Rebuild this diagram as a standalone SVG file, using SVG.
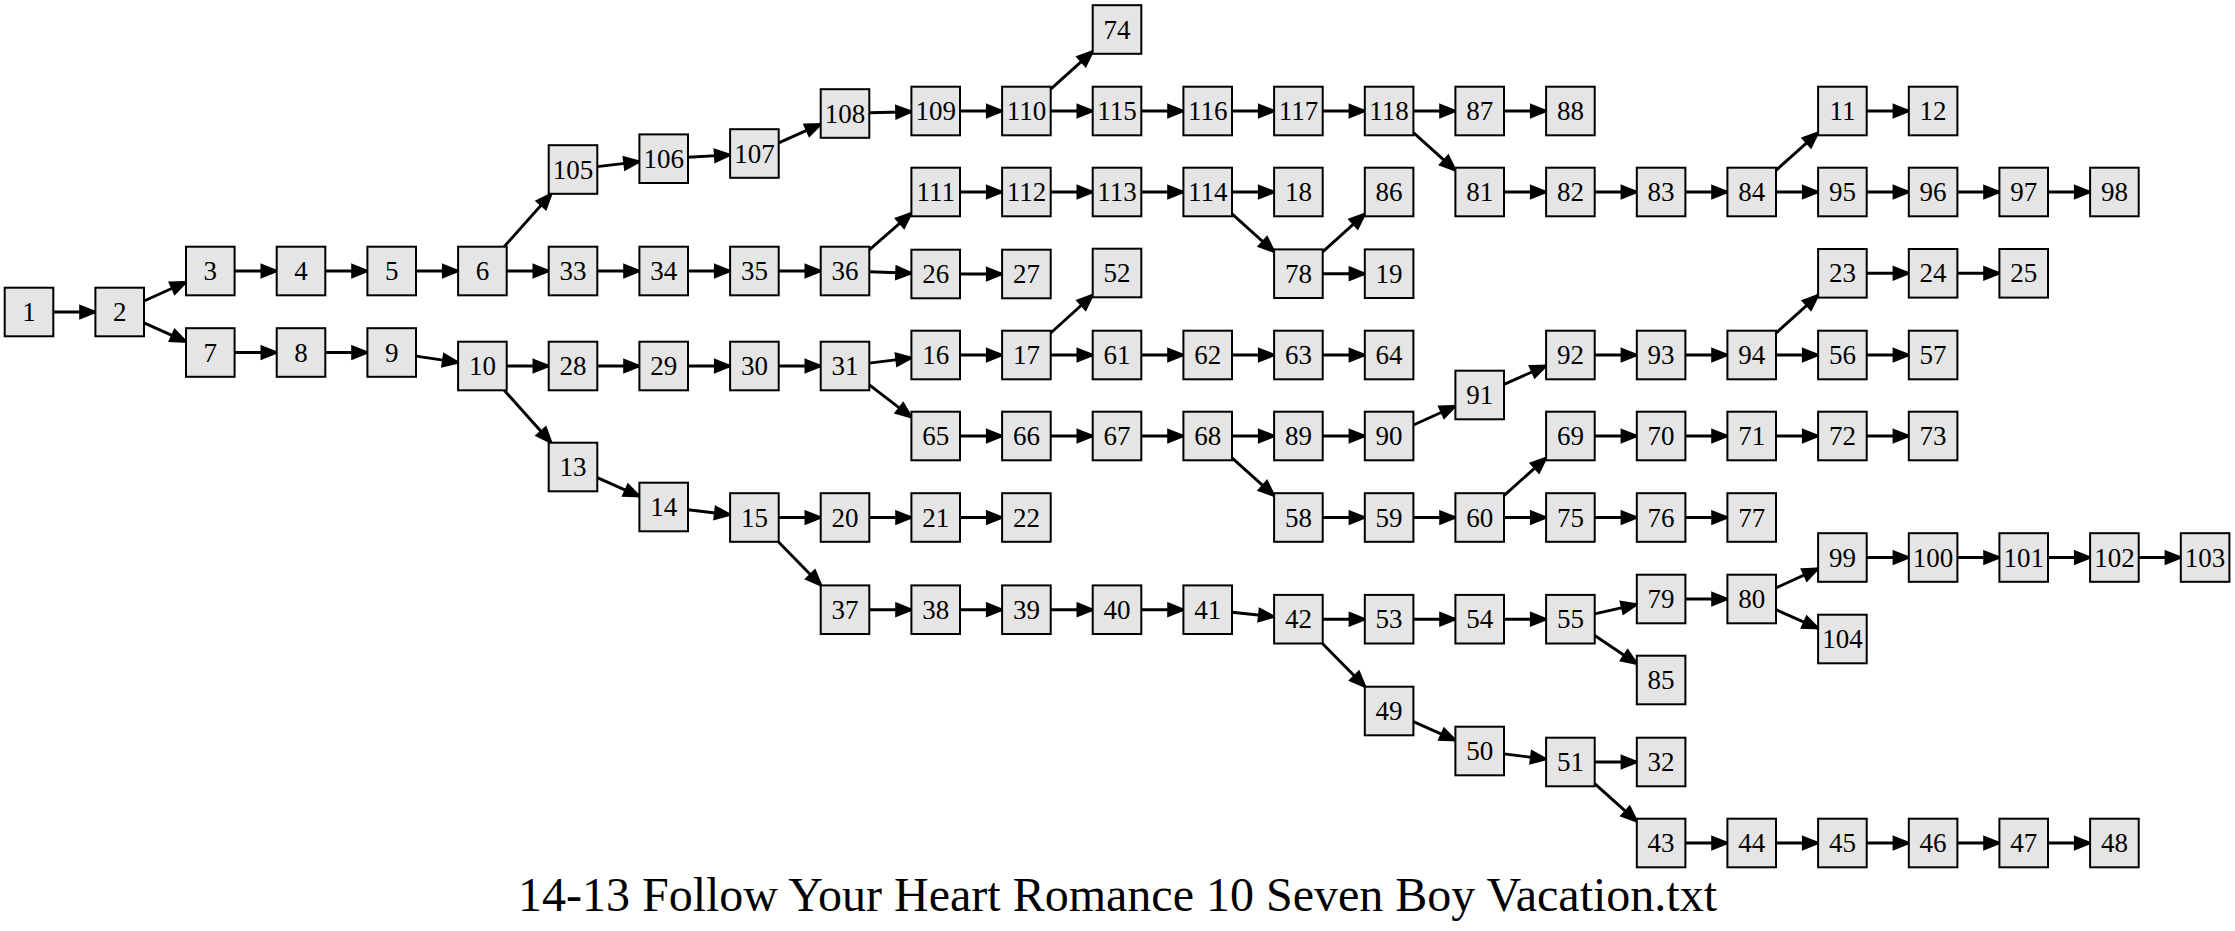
<svg xmlns="http://www.w3.org/2000/svg" width="2235" height="931" viewBox="0 0 2235 931">
<style>
.n rect{fill:#e5e5e5;stroke:#000;stroke-width:2}
.n text{font-family:"Liberation Serif","Times New Roman",serif;font-size:27px;text-anchor:middle;fill:#000}
#edges path{fill:none;stroke:#000;stroke-width:2.9;marker-end:url(#ah)}
.title{font-family:"Liberation Serif","Times New Roman",serif;font-size:48px;text-anchor:middle;fill:#000}
</style>
<defs>
<marker id="ah" markerUnits="userSpaceOnUse" markerWidth="20" markerHeight="20" refX="15" refY="6" orient="auto" overflow="visible">
<path d="M0,0 L15,6 L0,12 Z" fill="#000" stroke="#000" stroke-width="2.4"/>
</marker>
</defs>
<rect x="0" y="0" width="2235" height="931" fill="#fff"/>
<g id="edges">
<path d="M53.3 312 L95.4 312"/>
<path d="M144 301 L186 282"/>
<path d="M144 322.9 L186 341.6"/>
<path d="M234.6 271 L276.7 271"/>
<path d="M325.3 271 L367.4 271"/>
<path d="M416 271 L458.1 271"/>
<path d="M504.1 246.7 L551.3 193.8"/>
<path d="M506.7 271 L548.7 271"/>
<path d="M597.3 166.6 L639.4 161.6"/>
<path d="M688 157.3 L730.1 154.9"/>
<path d="M778.7 142.8 L820.7 124.2"/>
<path d="M869.3 112.8 L911.4 111.7"/>
<path d="M960 111 L1002.1 111"/>
<path d="M1050.7 89.2 L1092.7 51.3"/>
<path d="M1050.7 111 L1092.7 111"/>
<path d="M1141.3 111 L1183.4 111"/>
<path d="M1232 111 L1274.1 111"/>
<path d="M1322.7 111 L1364.8 111"/>
<path d="M1413.4 111 L1455.4 111"/>
<path d="M1504 111 L1546.1 111"/>
<path d="M1413.4 132.7 L1455.4 170.3"/>
<path d="M1504 192 L1546.1 192"/>
<path d="M1594.7 192 L1636.8 192"/>
<path d="M1685.4 192 L1727.4 192"/>
<path d="M1776 170.3 L1818.1 132.7"/>
<path d="M1866.7 111 L1908.8 111"/>
<path d="M1776 192 L1818.1 192"/>
<path d="M1866.7 192 L1908.8 192"/>
<path d="M1957.4 192 L1999.4 192"/>
<path d="M2048 192 L2090.1 192"/>
<path d="M597.3 271 L639.4 271"/>
<path d="M688 271 L730.1 271"/>
<path d="M778.7 271 L820.7 271"/>
<path d="M869.3 249.8 L911.4 213.2"/>
<path d="M869.3 271.8 L911.4 273.2"/>
<path d="M960 274 L1002.1 274"/>
<path d="M960 192 L1002.1 192"/>
<path d="M1050.7 192 L1092.7 192"/>
<path d="M1141.3 192 L1183.4 192"/>
<path d="M1232 192 L1274.1 192"/>
<path d="M1232 213.9 L1274.1 251.8"/>
<path d="M1322.7 251.8 L1364.8 213.9"/>
<path d="M1322.7 273.7 L1364.8 273.7"/>
<path d="M234.6 352.5 L276.7 352.5"/>
<path d="M325.3 352.5 L367.4 352.5"/>
<path d="M416 356.1 L458.1 362.4"/>
<path d="M506.7 366 L548.7 366"/>
<path d="M504.2 390.3 L551.2 442.7"/>
<path d="M597.3 366 L639.4 366"/>
<path d="M688 366 L730.1 366"/>
<path d="M778.7 366 L820.7 366"/>
<path d="M869.3 363.1 L911.4 357.9"/>
<path d="M869.3 384.8 L911.4 417.2"/>
<path d="M960 355 L1002.1 355"/>
<path d="M1050.7 333 L1092.7 295"/>
<path d="M1050.7 355 L1092.7 355"/>
<path d="M1141.3 355 L1183.4 355"/>
<path d="M1232 355 L1274.1 355"/>
<path d="M1322.7 355 L1364.8 355"/>
<path d="M960 436 L1002.1 436"/>
<path d="M1050.7 436 L1092.7 436"/>
<path d="M1141.3 436 L1183.4 436"/>
<path d="M1232 436 L1274.1 436"/>
<path d="M1232 457.8 L1274.1 495.7"/>
<path d="M1322.7 436 L1364.8 436"/>
<path d="M1413.4 425 L1455.4 406"/>
<path d="M1504 384.3 L1546.1 365.7"/>
<path d="M1594.7 355 L1636.8 355"/>
<path d="M1685.4 355 L1727.4 355"/>
<path d="M1776 333.1 L1818.1 295.2"/>
<path d="M1776 355 L1818.1 355"/>
<path d="M1866.7 273.3 L1908.8 273.3"/>
<path d="M1957.4 273.3 L1999.4 273.3"/>
<path d="M1866.7 355 L1908.8 355"/>
<path d="M1322.7 517.5 L1364.8 517.5"/>
<path d="M1413.4 517.5 L1455.4 517.5"/>
<path d="M1504 495.7 L1546.1 457.8"/>
<path d="M1504 517.5 L1546.1 517.5"/>
<path d="M1594.7 436 L1636.8 436"/>
<path d="M1685.4 436 L1727.4 436"/>
<path d="M1776 436 L1818.1 436"/>
<path d="M1866.7 436 L1908.8 436"/>
<path d="M1594.7 517.5 L1636.8 517.5"/>
<path d="M1685.4 517.5 L1727.4 517.5"/>
<path d="M597.3 477.7 L639.4 496.3"/>
<path d="M688 509.8 L730.1 514.7"/>
<path d="M778.7 517.5 L820.7 517.5"/>
<path d="M778.3 541.8 L821.1 585.4"/>
<path d="M869.3 517.5 L911.4 517.5"/>
<path d="M960 517.5 L1002.1 517.5"/>
<path d="M869.3 609.7 L911.4 609.7"/>
<path d="M960 609.7 L1002.1 609.7"/>
<path d="M1050.7 609.7 L1092.7 609.7"/>
<path d="M1141.3 609.7 L1183.4 609.7"/>
<path d="M1232 612.2 L1274.1 616.7"/>
<path d="M1322.7 619.2 L1364.8 619.2"/>
<path d="M1322.4 643.5 L1365.1 686.7"/>
<path d="M1413.4 619.2 L1455.4 619.2"/>
<path d="M1504 619.2 L1546.1 619.2"/>
<path d="M1594.7 613.8 L1636.8 604.4"/>
<path d="M1594.7 635.5 L1636.8 663.7"/>
<path d="M1685.4 599 L1727.4 599"/>
<path d="M1776 587.9 L1818.1 568.6"/>
<path d="M1776 609.7 L1818.1 628.3"/>
<path d="M1866.7 557.5 L1908.8 557.5"/>
<path d="M1957.4 557.5 L1999.4 557.5"/>
<path d="M2048 557.5 L2090.1 557.5"/>
<path d="M2138.7 557.5 L2180.8 557.5"/>
<path d="M1413.4 721.7 L1455.4 740.3"/>
<path d="M1504 753.9 L1546.1 759.1"/>
<path d="M1594.7 762 L1636.8 762"/>
<path d="M1594.7 783.7 L1636.8 821.3"/>
<path d="M1685.4 843 L1727.4 843"/>
<path d="M1776 843 L1818.1 843"/>
<path d="M1866.7 843 L1908.8 843"/>
<path d="M1957.4 843 L1999.4 843"/>
<path d="M2048 843 L2090.1 843"/>
</g>
<g id="n1" class="n" transform="translate(29,312)"><rect x="-24.3" y="-24.3" width="48.6" height="48.6"/><text y="9">1</text></g>
<g id="n2" class="n" transform="translate(119.7,312)"><rect x="-24.3" y="-24.3" width="48.6" height="48.6"/><text y="9">2</text></g>
<g id="n3" class="n" transform="translate(210.3,271)"><rect x="-24.3" y="-24.3" width="48.6" height="48.6"/><text y="9">3</text></g>
<g id="n4" class="n" transform="translate(301,271)"><rect x="-24.3" y="-24.3" width="48.6" height="48.6"/><text y="9">4</text></g>
<g id="n5" class="n" transform="translate(391.7,271)"><rect x="-24.3" y="-24.3" width="48.6" height="48.6"/><text y="9">5</text></g>
<g id="n6" class="n" transform="translate(482.4,271)"><rect x="-24.3" y="-24.3" width="48.6" height="48.6"/><text y="9">6</text></g>
<g id="n105" class="n" transform="translate(573,169.5)"><rect x="-24.3" y="-24.3" width="48.6" height="48.6"/><text y="9">105</text></g>
<g id="n106" class="n" transform="translate(663.7,158.7)"><rect x="-24.3" y="-24.3" width="48.6" height="48.6"/><text y="9">106</text></g>
<g id="n107" class="n" transform="translate(754.4,153.5)"><rect x="-24.3" y="-24.3" width="48.6" height="48.6"/><text y="9">107</text></g>
<g id="n108" class="n" transform="translate(845,113.5)"><rect x="-24.3" y="-24.3" width="48.6" height="48.6"/><text y="9">108</text></g>
<g id="n109" class="n" transform="translate(935.7,111)"><rect x="-24.3" y="-24.3" width="48.6" height="48.6"/><text y="9">109</text></g>
<g id="n110" class="n" transform="translate(1026.4,111)"><rect x="-24.3" y="-24.3" width="48.6" height="48.6"/><text y="9">110</text></g>
<g id="n74" class="n" transform="translate(1117,29.5)"><rect x="-24.3" y="-24.3" width="48.6" height="48.6"/><text y="9">74</text></g>
<g id="n115" class="n" transform="translate(1117,111)"><rect x="-24.3" y="-24.3" width="48.6" height="48.6"/><text y="9">115</text></g>
<g id="n116" class="n" transform="translate(1207.7,111)"><rect x="-24.3" y="-24.3" width="48.6" height="48.6"/><text y="9">116</text></g>
<g id="n117" class="n" transform="translate(1298.4,111)"><rect x="-24.3" y="-24.3" width="48.6" height="48.6"/><text y="9">117</text></g>
<g id="n118" class="n" transform="translate(1389.1,111)"><rect x="-24.3" y="-24.3" width="48.6" height="48.6"/><text y="9">118</text></g>
<g id="n87" class="n" transform="translate(1479.7,111)"><rect x="-24.3" y="-24.3" width="48.6" height="48.6"/><text y="9">87</text></g>
<g id="n88" class="n" transform="translate(1570.4,111)"><rect x="-24.3" y="-24.3" width="48.6" height="48.6"/><text y="9">88</text></g>
<g id="n81" class="n" transform="translate(1479.7,192)"><rect x="-24.3" y="-24.3" width="48.6" height="48.6"/><text y="9">81</text></g>
<g id="n82" class="n" transform="translate(1570.4,192)"><rect x="-24.3" y="-24.3" width="48.6" height="48.6"/><text y="9">82</text></g>
<g id="n83" class="n" transform="translate(1661.1,192)"><rect x="-24.3" y="-24.3" width="48.6" height="48.6"/><text y="9">83</text></g>
<g id="n84" class="n" transform="translate(1751.7,192)"><rect x="-24.3" y="-24.3" width="48.6" height="48.6"/><text y="9">84</text></g>
<g id="n11" class="n" transform="translate(1842.4,111)"><rect x="-24.3" y="-24.3" width="48.6" height="48.6"/><text y="9">11</text></g>
<g id="n12" class="n" transform="translate(1933.1,111)"><rect x="-24.3" y="-24.3" width="48.6" height="48.6"/><text y="9">12</text></g>
<g id="n95" class="n" transform="translate(1842.4,192)"><rect x="-24.3" y="-24.3" width="48.6" height="48.6"/><text y="9">95</text></g>
<g id="n96" class="n" transform="translate(1933.1,192)"><rect x="-24.3" y="-24.3" width="48.6" height="48.6"/><text y="9">96</text></g>
<g id="n97" class="n" transform="translate(2023.7,192)"><rect x="-24.3" y="-24.3" width="48.6" height="48.6"/><text y="9">97</text></g>
<g id="n98" class="n" transform="translate(2114.4,192)"><rect x="-24.3" y="-24.3" width="48.6" height="48.6"/><text y="9">98</text></g>
<g id="n33" class="n" transform="translate(573,271)"><rect x="-24.3" y="-24.3" width="48.6" height="48.6"/><text y="9">33</text></g>
<g id="n34" class="n" transform="translate(663.7,271)"><rect x="-24.3" y="-24.3" width="48.6" height="48.6"/><text y="9">34</text></g>
<g id="n35" class="n" transform="translate(754.4,271)"><rect x="-24.3" y="-24.3" width="48.6" height="48.6"/><text y="9">35</text></g>
<g id="n36" class="n" transform="translate(845,271)"><rect x="-24.3" y="-24.3" width="48.6" height="48.6"/><text y="9">36</text></g>
<g id="n111" class="n" transform="translate(935.7,192)"><rect x="-24.3" y="-24.3" width="48.6" height="48.6"/><text y="9">111</text></g>
<g id="n112" class="n" transform="translate(1026.4,192)"><rect x="-24.3" y="-24.3" width="48.6" height="48.6"/><text y="9">112</text></g>
<g id="n113" class="n" transform="translate(1117,192)"><rect x="-24.3" y="-24.3" width="48.6" height="48.6"/><text y="9">113</text></g>
<g id="n114" class="n" transform="translate(1207.7,192)"><rect x="-24.3" y="-24.3" width="48.6" height="48.6"/><text y="9">114</text></g>
<g id="n18" class="n" transform="translate(1298.4,192)"><rect x="-24.3" y="-24.3" width="48.6" height="48.6"/><text y="9">18</text></g>
<g id="n78" class="n" transform="translate(1298.4,273.7)"><rect x="-24.3" y="-24.3" width="48.6" height="48.6"/><text y="9">78</text></g>
<g id="n86" class="n" transform="translate(1389.1,192)"><rect x="-24.3" y="-24.3" width="48.6" height="48.6"/><text y="9">86</text></g>
<g id="n19" class="n" transform="translate(1389.1,273.7)"><rect x="-24.3" y="-24.3" width="48.6" height="48.6"/><text y="9">19</text></g>
<g id="n26" class="n" transform="translate(935.7,274)"><rect x="-24.3" y="-24.3" width="48.6" height="48.6"/><text y="9">26</text></g>
<g id="n27" class="n" transform="translate(1026.4,274)"><rect x="-24.3" y="-24.3" width="48.6" height="48.6"/><text y="9">27</text></g>
<g id="n7" class="n" transform="translate(210.3,352.5)"><rect x="-24.3" y="-24.3" width="48.6" height="48.6"/><text y="9">7</text></g>
<g id="n8" class="n" transform="translate(301,352.5)"><rect x="-24.3" y="-24.3" width="48.6" height="48.6"/><text y="9">8</text></g>
<g id="n9" class="n" transform="translate(391.7,352.5)"><rect x="-24.3" y="-24.3" width="48.6" height="48.6"/><text y="9">9</text></g>
<g id="n10" class="n" transform="translate(482.4,366)"><rect x="-24.3" y="-24.3" width="48.6" height="48.6"/><text y="9">10</text></g>
<g id="n28" class="n" transform="translate(573,366)"><rect x="-24.3" y="-24.3" width="48.6" height="48.6"/><text y="9">28</text></g>
<g id="n29" class="n" transform="translate(663.7,366)"><rect x="-24.3" y="-24.3" width="48.6" height="48.6"/><text y="9">29</text></g>
<g id="n30" class="n" transform="translate(754.4,366)"><rect x="-24.3" y="-24.3" width="48.6" height="48.6"/><text y="9">30</text></g>
<g id="n31" class="n" transform="translate(845,366)"><rect x="-24.3" y="-24.3" width="48.6" height="48.6"/><text y="9">31</text></g>
<g id="n16" class="n" transform="translate(935.7,355)"><rect x="-24.3" y="-24.3" width="48.6" height="48.6"/><text y="9">16</text></g>
<g id="n17" class="n" transform="translate(1026.4,355)"><rect x="-24.3" y="-24.3" width="48.6" height="48.6"/><text y="9">17</text></g>
<g id="n52" class="n" transform="translate(1117,273)"><rect x="-24.3" y="-24.3" width="48.6" height="48.6"/><text y="9">52</text></g>
<g id="n61" class="n" transform="translate(1117,355)"><rect x="-24.3" y="-24.3" width="48.6" height="48.6"/><text y="9">61</text></g>
<g id="n62" class="n" transform="translate(1207.7,355)"><rect x="-24.3" y="-24.3" width="48.6" height="48.6"/><text y="9">62</text></g>
<g id="n63" class="n" transform="translate(1298.4,355)"><rect x="-24.3" y="-24.3" width="48.6" height="48.6"/><text y="9">63</text></g>
<g id="n64" class="n" transform="translate(1389.1,355)"><rect x="-24.3" y="-24.3" width="48.6" height="48.6"/><text y="9">64</text></g>
<g id="n65" class="n" transform="translate(935.7,436)"><rect x="-24.3" y="-24.3" width="48.6" height="48.6"/><text y="9">65</text></g>
<g id="n66" class="n" transform="translate(1026.4,436)"><rect x="-24.3" y="-24.3" width="48.6" height="48.6"/><text y="9">66</text></g>
<g id="n67" class="n" transform="translate(1117,436)"><rect x="-24.3" y="-24.3" width="48.6" height="48.6"/><text y="9">67</text></g>
<g id="n68" class="n" transform="translate(1207.7,436)"><rect x="-24.3" y="-24.3" width="48.6" height="48.6"/><text y="9">68</text></g>
<g id="n89" class="n" transform="translate(1298.4,436)"><rect x="-24.3" y="-24.3" width="48.6" height="48.6"/><text y="9">89</text></g>
<g id="n90" class="n" transform="translate(1389.1,436)"><rect x="-24.3" y="-24.3" width="48.6" height="48.6"/><text y="9">90</text></g>
<g id="n91" class="n" transform="translate(1479.7,395)"><rect x="-24.3" y="-24.3" width="48.6" height="48.6"/><text y="9">91</text></g>
<g id="n92" class="n" transform="translate(1570.4,355)"><rect x="-24.3" y="-24.3" width="48.6" height="48.6"/><text y="9">92</text></g>
<g id="n93" class="n" transform="translate(1661.1,355)"><rect x="-24.3" y="-24.3" width="48.6" height="48.6"/><text y="9">93</text></g>
<g id="n94" class="n" transform="translate(1751.7,355)"><rect x="-24.3" y="-24.3" width="48.6" height="48.6"/><text y="9">94</text></g>
<g id="n23" class="n" transform="translate(1842.4,273.3)"><rect x="-24.3" y="-24.3" width="48.6" height="48.6"/><text y="9">23</text></g>
<g id="n24" class="n" transform="translate(1933.1,273.3)"><rect x="-24.3" y="-24.3" width="48.6" height="48.6"/><text y="9">24</text></g>
<g id="n25" class="n" transform="translate(2023.7,273.3)"><rect x="-24.3" y="-24.3" width="48.6" height="48.6"/><text y="9">25</text></g>
<g id="n56" class="n" transform="translate(1842.4,355)"><rect x="-24.3" y="-24.3" width="48.6" height="48.6"/><text y="9">56</text></g>
<g id="n57" class="n" transform="translate(1933.1,355)"><rect x="-24.3" y="-24.3" width="48.6" height="48.6"/><text y="9">57</text></g>
<g id="n58" class="n" transform="translate(1298.4,517.5)"><rect x="-24.3" y="-24.3" width="48.6" height="48.6"/><text y="9">58</text></g>
<g id="n59" class="n" transform="translate(1389.1,517.5)"><rect x="-24.3" y="-24.3" width="48.6" height="48.6"/><text y="9">59</text></g>
<g id="n60" class="n" transform="translate(1479.7,517.5)"><rect x="-24.3" y="-24.3" width="48.6" height="48.6"/><text y="9">60</text></g>
<g id="n69" class="n" transform="translate(1570.4,436)"><rect x="-24.3" y="-24.3" width="48.6" height="48.6"/><text y="9">69</text></g>
<g id="n70" class="n" transform="translate(1661.1,436)"><rect x="-24.3" y="-24.3" width="48.6" height="48.6"/><text y="9">70</text></g>
<g id="n71" class="n" transform="translate(1751.7,436)"><rect x="-24.3" y="-24.3" width="48.6" height="48.6"/><text y="9">71</text></g>
<g id="n72" class="n" transform="translate(1842.4,436)"><rect x="-24.3" y="-24.3" width="48.6" height="48.6"/><text y="9">72</text></g>
<g id="n73" class="n" transform="translate(1933.1,436)"><rect x="-24.3" y="-24.3" width="48.6" height="48.6"/><text y="9">73</text></g>
<g id="n75" class="n" transform="translate(1570.4,517.5)"><rect x="-24.3" y="-24.3" width="48.6" height="48.6"/><text y="9">75</text></g>
<g id="n76" class="n" transform="translate(1661.1,517.5)"><rect x="-24.3" y="-24.3" width="48.6" height="48.6"/><text y="9">76</text></g>
<g id="n77" class="n" transform="translate(1751.7,517.5)"><rect x="-24.3" y="-24.3" width="48.6" height="48.6"/><text y="9">77</text></g>
<g id="n13" class="n" transform="translate(573,467)"><rect x="-24.3" y="-24.3" width="48.6" height="48.6"/><text y="9">13</text></g>
<g id="n14" class="n" transform="translate(663.7,507)"><rect x="-24.3" y="-24.3" width="48.6" height="48.6"/><text y="9">14</text></g>
<g id="n15" class="n" transform="translate(754.4,517.5)"><rect x="-24.3" y="-24.3" width="48.6" height="48.6"/><text y="9">15</text></g>
<g id="n20" class="n" transform="translate(845,517.5)"><rect x="-24.3" y="-24.3" width="48.6" height="48.6"/><text y="9">20</text></g>
<g id="n21" class="n" transform="translate(935.7,517.5)"><rect x="-24.3" y="-24.3" width="48.6" height="48.6"/><text y="9">21</text></g>
<g id="n22" class="n" transform="translate(1026.4,517.5)"><rect x="-24.3" y="-24.3" width="48.6" height="48.6"/><text y="9">22</text></g>
<g id="n37" class="n" transform="translate(845,609.7)"><rect x="-24.3" y="-24.3" width="48.6" height="48.6"/><text y="9">37</text></g>
<g id="n38" class="n" transform="translate(935.7,609.7)"><rect x="-24.3" y="-24.3" width="48.6" height="48.6"/><text y="9">38</text></g>
<g id="n39" class="n" transform="translate(1026.4,609.7)"><rect x="-24.3" y="-24.3" width="48.6" height="48.6"/><text y="9">39</text></g>
<g id="n40" class="n" transform="translate(1117,609.7)"><rect x="-24.3" y="-24.3" width="48.6" height="48.6"/><text y="9">40</text></g>
<g id="n41" class="n" transform="translate(1207.7,609.7)"><rect x="-24.3" y="-24.3" width="48.6" height="48.6"/><text y="9">41</text></g>
<g id="n42" class="n" transform="translate(1298.4,619.2)"><rect x="-24.3" y="-24.3" width="48.6" height="48.6"/><text y="9">42</text></g>
<g id="n53" class="n" transform="translate(1389.1,619.2)"><rect x="-24.3" y="-24.3" width="48.6" height="48.6"/><text y="9">53</text></g>
<g id="n54" class="n" transform="translate(1479.7,619.2)"><rect x="-24.3" y="-24.3" width="48.6" height="48.6"/><text y="9">54</text></g>
<g id="n55" class="n" transform="translate(1570.4,619.2)"><rect x="-24.3" y="-24.3" width="48.6" height="48.6"/><text y="9">55</text></g>
<g id="n79" class="n" transform="translate(1661.1,599)"><rect x="-24.3" y="-24.3" width="48.6" height="48.6"/><text y="9">79</text></g>
<g id="n80" class="n" transform="translate(1751.7,599)"><rect x="-24.3" y="-24.3" width="48.6" height="48.6"/><text y="9">80</text></g>
<g id="n99" class="n" transform="translate(1842.4,557.5)"><rect x="-24.3" y="-24.3" width="48.6" height="48.6"/><text y="9">99</text></g>
<g id="n100" class="n" transform="translate(1933.1,557.5)"><rect x="-24.3" y="-24.3" width="48.6" height="48.6"/><text y="9">100</text></g>
<g id="n101" class="n" transform="translate(2023.7,557.5)"><rect x="-24.3" y="-24.3" width="48.6" height="48.6"/><text y="9">101</text></g>
<g id="n102" class="n" transform="translate(2114.4,557.5)"><rect x="-24.3" y="-24.3" width="48.6" height="48.6"/><text y="9">102</text></g>
<g id="n103" class="n" transform="translate(2205.1,557.5)"><rect x="-24.3" y="-24.3" width="48.6" height="48.6"/><text y="9">103</text></g>
<g id="n104" class="n" transform="translate(1842.4,639)"><rect x="-24.3" y="-24.3" width="48.6" height="48.6"/><text y="9">104</text></g>
<g id="n85" class="n" transform="translate(1661.1,680)"><rect x="-24.3" y="-24.3" width="48.6" height="48.6"/><text y="9">85</text></g>
<g id="n49" class="n" transform="translate(1389.1,711)"><rect x="-24.3" y="-24.3" width="48.6" height="48.6"/><text y="9">49</text></g>
<g id="n50" class="n" transform="translate(1479.7,751)"><rect x="-24.3" y="-24.3" width="48.6" height="48.6"/><text y="9">50</text></g>
<g id="n51" class="n" transform="translate(1570.4,762)"><rect x="-24.3" y="-24.3" width="48.6" height="48.6"/><text y="9">51</text></g>
<g id="n32" class="n" transform="translate(1661.1,762)"><rect x="-24.3" y="-24.3" width="48.6" height="48.6"/><text y="9">32</text></g>
<g id="n43" class="n" transform="translate(1661.1,843)"><rect x="-24.3" y="-24.3" width="48.6" height="48.6"/><text y="9">43</text></g>
<g id="n44" class="n" transform="translate(1751.7,843)"><rect x="-24.3" y="-24.3" width="48.6" height="48.6"/><text y="9">44</text></g>
<g id="n45" class="n" transform="translate(1842.4,843)"><rect x="-24.3" y="-24.3" width="48.6" height="48.6"/><text y="9">45</text></g>
<g id="n46" class="n" transform="translate(1933.1,843)"><rect x="-24.3" y="-24.3" width="48.6" height="48.6"/><text y="9">46</text></g>
<g id="n47" class="n" transform="translate(2023.7,843)"><rect x="-24.3" y="-24.3" width="48.6" height="48.6"/><text y="9">47</text></g>
<g id="n48" class="n" transform="translate(2114.4,843)"><rect x="-24.3" y="-24.3" width="48.6" height="48.6"/><text y="9">48</text></g>
<text class="title" x="1117.5" y="911">14-13 Follow Your Heart Romance 10 Seven Boy Vacation.txt</text>
</svg>
